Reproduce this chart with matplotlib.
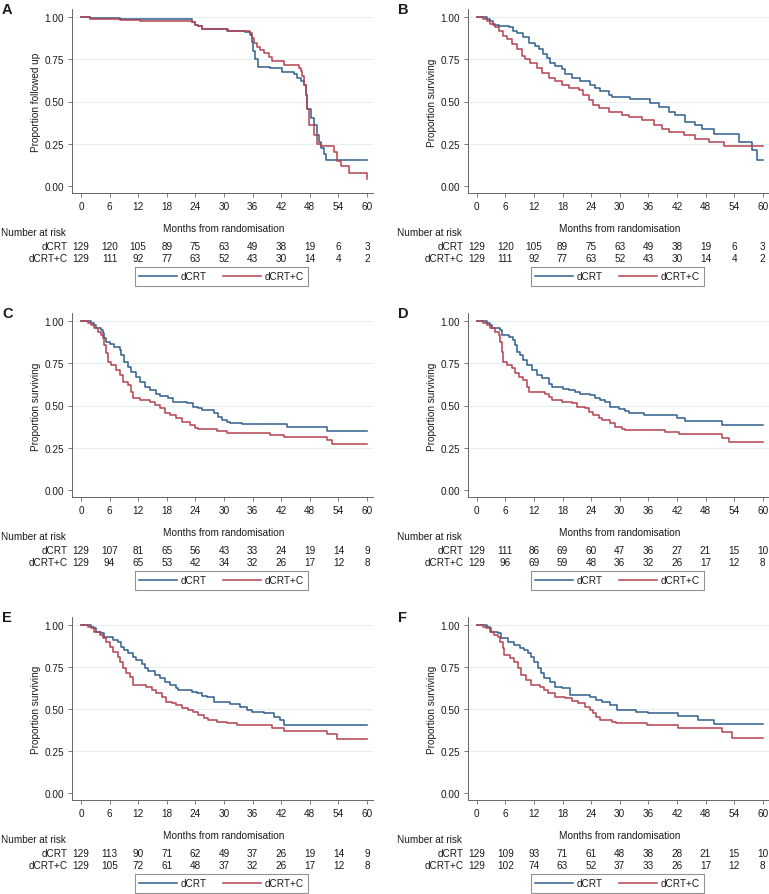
import matplotlib
matplotlib.use('Agg')
import matplotlib.pyplot as plt
from matplotlib.lines import Line2D
import matplotlib.transforms as mtransforms

plt.rcParams['font.family'] = ['Liberation Sans', 'DejaVu Sans']

# Months at which the number at risk is reported
months = [0, 6, 12, 18, 24, 30, 36, 42, 48, 54, 60]

# A - proportion followed up
a_dcrt_t = [0, 1.8, 8.1, 23.2, 24.0, 24.6, 25.4, 30.6, 34.5, 35.5, 35.8, 36.0, 36.4, 37.2, 39.7, 42.2,
            44.7, 45.4, 46.1, 46.8, 47.2, 47.5, 48.2, 48.9, 49.6, 50.0, 50.4, 51.0, 51.5, 60]
a_dcrt_s = [1.0, 0.994, 0.986, 0.97, 0.955, 0.945, 0.93, 0.92, 0.91, 0.895, 0.855, 0.80, 0.75, 0.706, 0.696, 0.676,
            0.66, 0.64, 0.62, 0.596, 0.537, 0.457, 0.40, 0.36, 0.30, 0.26, 0.223, 0.19, 0.153, 0.153]
a_dcrtc_t = [0, 1.8, 8.1, 12.3, 23.2, 24.0, 24.6, 25.4, 30.9, 35.5, 35.9, 36.2, 36.9, 37.6, 38.3, 39.4, 40.1, 42.5,
             45.7, 46.1, 46.4, 46.8, 47.1, 47.5, 47.8, 48.9, 49.6, 50.3, 53.1, 53.7, 54.5, 56.3, 60]
a_dcrtc_s = [1.0, 0.99, 0.984, 0.978, 0.97, 0.955, 0.945, 0.93, 0.915, 0.905, 0.875, 0.845, 0.825, 0.805, 0.785, 0.765,
             0.74, 0.716, 0.70, 0.68, 0.65, 0.596, 0.537, 0.457, 0.358, 0.30, 0.25, 0.239, 0.20, 0.15, 0.12, 0.074, 0.04]
a_risk_dcrt = [129, 120, 105, 89, 75, 63, 49, 38, 19, 6, 3]
a_risk_dcrtc = [129, 111, 92, 77, 63, 52, 43, 30, 14, 4, 2]

# B
b_dcrt_t = [0, 2.1, 2.8, 3.5, 4.6, 6.7, 7.7, 8.4, 9.8, 10.9, 12.3, 13.0, 14.0, 14.7, 15.4, 16.5, 17.9, 18.6, 20.0,
            21.7, 23.8, 24.9, 25.9, 27.7, 28.4, 32.2, 36.4, 38.2, 40.3, 41.7, 43.8, 45.9, 47.3, 49.7, 55.0, 57.8,
            58.8, 60]
b_dcrt_s = [1.0, 0.99, 0.978, 0.954, 0.948, 0.938, 0.915, 0.905, 0.879, 0.849, 0.829, 0.81, 0.78, 0.76, 0.73, 0.71,
            0.69, 0.66, 0.64, 0.62, 0.60, 0.58, 0.56, 0.54, 0.528, 0.512, 0.49, 0.47, 0.44, 0.42, 0.38, 0.36, 0.34,
            0.31, 0.258, 0.214, 0.155, 0.155]
b_dcrtc_t = [0, 1.4, 2.1, 2.8, 3.9, 4.6, 5.6, 6.3, 7.4, 8.4, 9.5, 10.2, 11.2, 12.6, 13.7, 15.1, 16.5, 17.9, 19.3,
             21.4, 22.4, 23.5, 24.5, 25.6, 27.7, 30.5, 31.9, 34.7, 37.1, 38.9, 40.3, 43.4, 45.9, 48.7, 51.8, 60]
b_dcrtc_s = [1.0, 0.99, 0.978, 0.958, 0.938, 0.918, 0.889, 0.869, 0.839, 0.81, 0.77, 0.75, 0.73, 0.70, 0.67, 0.64,
             0.62, 0.60, 0.58, 0.567, 0.54, 0.51, 0.48, 0.46, 0.44, 0.42, 0.41, 0.39, 0.36, 0.34, 0.32, 0.30, 0.28,
             0.26, 0.234, 0.234]
b_risk_dcrt = [129, 120, 105, 89, 75, 63, 49, 38, 19, 6, 3]
b_risk_dcrtc = [129, 111, 92, 77, 63, 52, 43, 30, 14, 4, 2]

# C
c_dcrt_t = [0, 2.1, 2.8, 3.2, 4.2, 4.6, 4.9, 5.3, 6.0, 7.0, 8.1, 8.4, 9.1, 9.8, 10.5, 11.6, 12.3, 13.4, 14.4, 15.8,
            16.5, 18.3, 19.3, 22.2, 23.6, 24.6, 25.3, 27.8, 28.8, 29.5, 30.6, 31.3, 33.8, 43.2, 51.7, 60]
c_dcrt_s = [1.0, 0.99, 0.976, 0.957, 0.947, 0.93, 0.90, 0.878, 0.864, 0.848, 0.83, 0.80, 0.76, 0.73, 0.70, 0.67,
            0.64, 0.61, 0.59, 0.57, 0.556, 0.542, 0.523, 0.513, 0.493, 0.483, 0.473, 0.454, 0.434, 0.414, 0.404,
            0.398, 0.389, 0.375, 0.351, 0.351]
c_dcrtc_t = [0, 1.4, 2.1, 2.8, 3.5, 4.2, 4.6, 4.9, 5.3, 5.6, 6.3, 7.4, 8.1, 8.8, 9.8, 10.5, 10.9, 12.3, 14.4, 15.5,
             16.5, 17.6, 18.6, 20.0, 21.1, 22.9, 23.9, 24.6, 28.5, 30.6, 39.7, 42.5, 51.7, 52.7, 60]
c_dcrtc_s = [1.0, 0.99, 0.976, 0.957, 0.937, 0.917, 0.90, 0.858, 0.809, 0.76, 0.74, 0.71, 0.68, 0.64, 0.62, 0.58,
             0.546, 0.533, 0.523, 0.503, 0.483, 0.454, 0.444, 0.424, 0.404, 0.385, 0.365, 0.359, 0.349, 0.339,
             0.325, 0.316, 0.296, 0.27, 0.27]
c_risk_dcrt = [129, 107, 81, 65, 56, 43, 33, 24, 19, 14, 9]
c_risk_dcrtc = [129, 94, 65, 53, 42, 34, 32, 26, 17, 12, 8]

# D
d_dcrt_t = [0, 2.1, 2.8, 3.2, 4.9, 5.3, 6.7, 7.7, 8.1, 8.4, 9.1, 9.8, 10.5, 11.6, 12.6, 13.7, 15.1, 15.8, 18.2,
            19.3, 20.7, 21.7, 23.8, 24.9, 25.9, 27.0, 28.0, 29.8, 31.2, 31.9, 35.0, 42.0, 43.8, 51.5, 60]
d_dcrt_s = [1.0, 0.99, 0.976, 0.957, 0.947, 0.917, 0.907, 0.888, 0.858, 0.818, 0.80, 0.77, 0.74, 0.71, 0.68, 0.66,
            0.63, 0.61, 0.60, 0.59, 0.58, 0.57, 0.56, 0.546, 0.533, 0.523, 0.493, 0.479, 0.469, 0.458, 0.444, 0.428,
            0.41, 0.385, 0.385]
d_dcrtc_t = [0, 1.4, 2.1, 2.8, 3.9, 4.6, 4.9, 5.3, 5.6, 6.3, 7.4, 8.1, 8.8, 9.8, 10.5, 10.9, 14.4, 15.1, 15.8, 17.9,
             20.0, 21.0, 22.8, 23.5, 24.5, 25.6, 26.3, 28.0, 29.1, 30.5, 31.2, 39.6, 42.4, 51.5, 52.9, 60]
d_dcrtc_s = [1.0, 0.99, 0.976, 0.957, 0.937, 0.917, 0.878, 0.818, 0.76, 0.74, 0.72, 0.69, 0.67, 0.65, 0.61, 0.58,
             0.57, 0.55, 0.533, 0.523, 0.513, 0.493, 0.483, 0.464, 0.444, 0.424, 0.414, 0.394, 0.375, 0.361, 0.355,
             0.345, 0.329, 0.31, 0.286, 0.286]
d_risk_dcrt = [129, 111, 86, 69, 60, 47, 36, 27, 21, 15, 10]
d_risk_dcrtc = [129, 96, 69, 59, 48, 36, 32, 26, 17, 12, 8]

# E
e_dcrt_t = [0, 2.1, 2.8, 3.2, 4.2, 4.9, 6.7, 7.7, 8.4, 9.1, 9.8, 10.9, 11.6, 12.7, 13.4, 14.1, 15.5, 16.5, 17.6,
            18.6, 20.0, 20.4, 23.2, 24.3, 25.3, 26.4, 27.8, 31.3, 33.4, 34.8, 35.9, 38.3, 40.4, 41.8, 42.5, 60]
e_dcrt_s = [1.0, 0.99, 0.98, 0.96, 0.95, 0.931, 0.911, 0.897, 0.871, 0.851, 0.832, 0.812, 0.792, 0.766, 0.743,
            0.727, 0.703, 0.683, 0.663, 0.644, 0.628, 0.614, 0.604, 0.594, 0.580, 0.574, 0.545, 0.529, 0.515,
            0.495, 0.485, 0.475, 0.455, 0.436, 0.406, 0.406]
e_dcrtc_t = [0, 1.4, 2.1, 2.8, 3.9, 4.6, 5.3, 6.0, 6.7, 7.7, 8.1, 8.8, 9.5, 10.2, 10.9, 13.7, 14.8, 15.8, 16.9, 17.9,
             19.0, 20.0, 21.1, 22.5, 23.6, 24.6, 25.7, 26.7, 28.5, 30.6, 32.7, 40.1, 42.5, 51.7, 53.8, 60]
e_dcrtc_s = [1.0, 0.99, 0.98, 0.96, 0.94, 0.92, 0.90, 0.871, 0.842, 0.812, 0.782, 0.743, 0.713, 0.693, 0.644, 0.634,
             0.614, 0.594, 0.574, 0.545, 0.535, 0.525, 0.505, 0.495, 0.481, 0.465, 0.450, 0.436, 0.426, 0.416,
             0.406, 0.386, 0.372, 0.350, 0.321, 0.321]
e_risk_dcrt = [129, 113, 90, 71, 62, 49, 37, 26, 19, 14, 9]
e_risk_dcrtc = [129, 105, 72, 61, 48, 37, 32, 26, 17, 12, 8]

# F
f_dcrt_t = [0, 2.1, 2.7, 3.0, 4.4, 5.1, 6.5, 7.9, 9.0, 10.0, 10.7, 11.4, 12.1, 12.8, 13.5, 14.2, 15.3, 16.4, 17.8,
            19.5, 23.7, 25.1, 26.2, 27.9, 29.4, 33.5, 36.0, 42.3, 46.5, 49.7, 60]
f_dcrt_s = [1.0, 0.99, 0.98, 0.96, 0.95, 0.921, 0.90, 0.881, 0.861, 0.851, 0.832, 0.812, 0.782, 0.743, 0.713, 0.683,
            0.663, 0.634, 0.624, 0.584, 0.574, 0.554, 0.545, 0.525, 0.495, 0.485, 0.475, 0.461, 0.436, 0.410, 0.410]
f_dcrtc_t = [0, 1.4, 2.0, 2.7, 3.7, 4.4, 4.8, 5.5, 5.8, 6.9, 7.9, 8.6, 9.3, 10.4, 11.4, 13.2, 14.2, 14.9, 16.4, 18.5,
             19.9, 21.3, 22.7, 23.7, 24.4, 25.1, 25.8, 28.3, 29.3, 35.7, 42.3, 51.4, 53.6, 60]
f_dcrtc_s = [1.0, 0.99, 0.98, 0.96, 0.94, 0.93, 0.90, 0.861, 0.822, 0.802, 0.782, 0.743, 0.703, 0.673, 0.644, 0.634,
             0.614, 0.594, 0.574, 0.564, 0.549, 0.535, 0.515, 0.495, 0.475, 0.455, 0.436, 0.426, 0.416, 0.406,
             0.386, 0.366, 0.331, 0.331]
f_risk_dcrt = [129, 109, 93, 71, 61, 48, 38, 28, 21, 15, 10]
f_risk_dcrtc = [129, 102, 74, 63, 52, 37, 33, 26, 17, 12, 8]

BLUE = '#305e8e'
RED = '#b5424e'
GRID = '#e6eef0'
TXT = '#1a1a1a'
FS = 7.2

W, H = 769, 895
fig = plt.figure(figsize=(W / 100, H / 100), dpi=100)

XMIN, XMAX = -1.8, 61.3
PXM = 286 / 60.0  # pixels per month

# (letter, ylabel, x0 pixel, y=1 pixel, y=0 pixel, data...)
panels = [
    ('A', 'Proportion followed up', 81, 18, 187, a_dcrt_t, a_dcrt_s, a_dcrtc_t, a_dcrtc_s, a_risk_dcrt, a_risk_dcrtc),
    ('B', 'Proportion surviving', 476.7, 18, 187, b_dcrt_t, b_dcrt_s, b_dcrtc_t, b_dcrtc_s, b_risk_dcrt, b_risk_dcrtc),
    ('C', 'Proportion surviving', 81, 322, 491, c_dcrt_t, c_dcrt_s, c_dcrtc_t, c_dcrtc_s, c_risk_dcrt, c_risk_dcrtc),
    ('D', 'Proportion surviving', 476.7, 322, 491, d_dcrt_t, d_dcrt_s, d_dcrtc_t, d_dcrtc_s, d_risk_dcrt, d_risk_dcrtc),
    ('E', 'Proportion surviving', 81, 626, 794.3, e_dcrt_t, e_dcrt_s, e_dcrtc_t, e_dcrtc_s, e_risk_dcrt, e_risk_dcrtc),
    ('F', 'Proportion surviving', 476.7, 626, 794.3, f_dcrt_t, f_dcrt_s, f_dcrtc_t, f_dcrtc_s, f_risk_dcrt, f_risk_dcrtc),
]

for letter, ylab, x0, y1, y0, bt, bs, rt, rs, rk_b, rk_r in panels:
    pxy = y0 - y1
    ylo = -6.5 / pxy
    yhi = 1 + 8 / pxy
    left = x0 + XMIN * PXM
    right = x0 + XMAX * PXM
    top = y1 - 8
    bottom = y0 + 6.5
    axw, axh = right - left, bottom - top
    ax = fig.add_axes([left / W, 1 - bottom / H, axw / W, axh / H])
    ax.set_xlim(XMIN, XMAX)
    ax.set_ylim(ylo, yhi)

    for g in [0.25, 0.5, 0.75, 1.0]:
        ax.axhline(g, color=GRID, lw=0.8, zorder=0)

    ax.step(bt, bs, where='post', color=BLUE, lw=1.1, label='dCRT')
    ax.step(rt, rs, where='post', color=RED, lw=1.1, label='dCRT+C')

    for s in ['top', 'right']:
        ax.spines[s].set_visible(False)
    for s in ['left', 'bottom']:
        ax.spines[s].set_color('#666666')
        ax.spines[s].set_linewidth(0.7)
    ax.set_xticks(months)
    ax.set_yticks([0, 0.25, 0.5, 0.75, 1.0])
    ax.set_yticklabels(['0.00', '0.25', '0.50', '0.75', '1.00'])
    ax.tick_params(direction='out', length=3, width=0.6, color='#666666', labelsize=FS,
                   labelcolor=TXT, pad=3)
    ax.set_ylabel(ylab, fontsize=FS, color=TXT)
    ax.yaxis.set_label_coords(-31 / axw, (bottom - (y0 + y1) / 2) / axh)
    ax.set_xlabel('Months from randomisation', fontsize=FS, color=TXT)
    ax.xaxis.set_label_coords((x0 + 30 * PXM - left) / axw, -30 / axh)

    # number at risk table
    tr = mtransforms.blended_transform_factory(ax.transData, ax.transAxes)
    ax.text(-71 / axw, -39 / axh, 'Number at risk', transform=ax.transAxes, fontsize=FS,
            color=TXT, ha='left', va='center')
    for off, lab, vals in [(53, 'dCRT', rk_b), (65, 'dCRT+C', rk_r)]:
        ax.text(-13 / PXM, -off / axh, lab, transform=tr, fontsize=FS, color=TXT,
                ha='right', va='center')
        for m, v in zip(months, vals):
            ax.text(m, -off / axh, str(v), transform=tr, fontsize=FS, color=TXT,
                    ha='center', va='center')

    handles = [Line2D([], [], color=BLUE, lw=1.1), Line2D([], [], color=RED, lw=1.1)]
    leg = ax.legend(handles, ['dCRT', 'dCRT+C'], loc='upper center', ncol=2,
                    bbox_to_anchor=((x0 + 140.5 - left) / axw, -74 / axh),
                    bbox_transform=ax.transAxes, fontsize=FS, frameon=True, fancybox=False,
                    handlelength=3.8, columnspacing=1.6, handletextpad=0.35,
                    borderpad=0.45, borderaxespad=0)
    leg.get_frame().set_edgecolor('#777777')
    leg.get_frame().set_linewidth(0.8)
    for t in leg.get_texts():
        t.set_color(TXT)

    fig.text((x0 - 79) / W, 1 - (y1 - 8) / H, letter, fontsize=10.5, fontweight='bold',
             color=TXT, ha='left', va='center')

fig.savefig('out.png', dpi=100)
